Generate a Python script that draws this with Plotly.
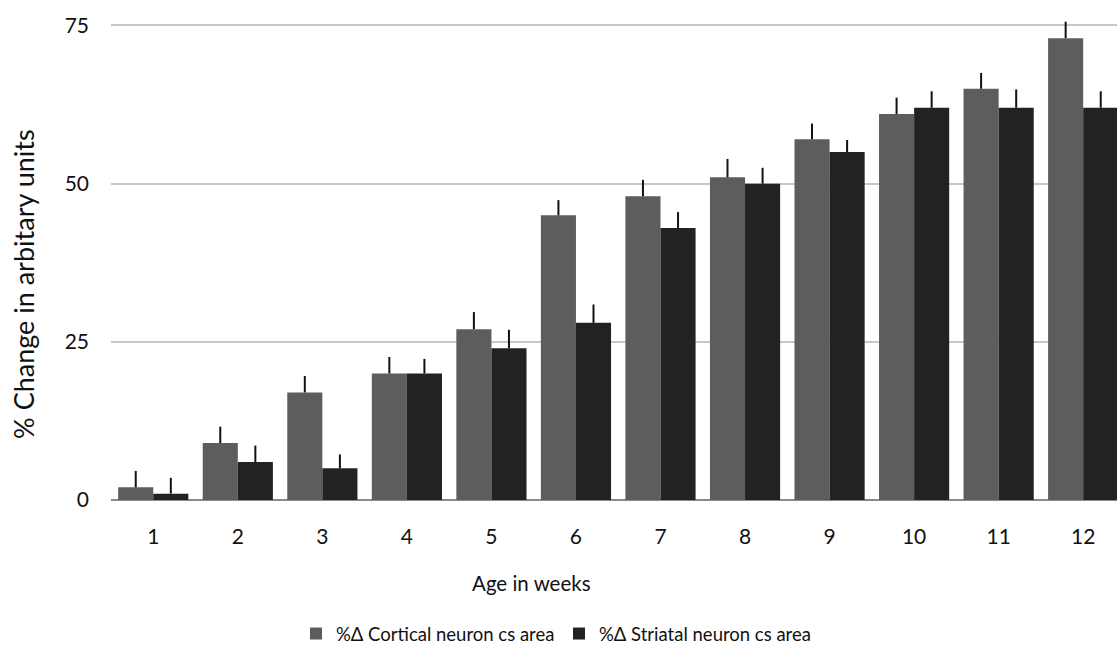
import plotly.graph_objects as go

weeks = [1, 2, 3, 4, 5, 6, 7, 8, 9, 10, 11, 12]
week_labels = ["1", "2", "3", "4", "5", "6", "7", "8", "9", "10", "11", "12"]
cortical = [2, 9, 17, 20, 27, 45, 48, 51, 57, 61, 65, 73]
cortical_err = [2.6, 2.6, 2.6, 2.6, 2.7, 2.4, 2.6, 2.9, 2.5, 2.6, 2.5, 2.6]
striatal = [1, 6, 5, 20, 24, 28, 43, 50, 55, 62, 62, 62]
striatal_err = [2.5, 2.6, 2.2, 2.3, 2.9, 2.9, 2.5, 2.5, 1.9, 2.6, 2.9, 2.6]
y_ticks = [0, 25, 50, 75]

FONT = "Lato"
W, H = 1117, 653
L, R, T, B = 111, 0, 16.4, 147.7

fig = go.Figure()
fig.add_trace(go.Bar(
    x=weeks, y=cortical, name="%Δ Cortical neuron cs area",
    marker=dict(color="#5d5d5d", line=dict(width=0)),
    error_y=dict(type="data", symmetric=False, array=cortical_err,
                 arrayminus=[0] * len(cortical), color="#111111",
                 thickness=2, width=0),
))
fig.add_trace(go.Bar(
    x=weeks, y=striatal, name="%Δ Striatal neuron cs area",
    marker=dict(color="#222222", line=dict(width=0)),
    error_y=dict(type="data", symmetric=False, array=striatal_err,
                 arrayminus=[0] * len(striatal), color="#111111",
                 thickness=2, width=0),
))

plot_h = H - T - B
plot_w = W - L - R


def px_x(p):
    return (p - L) / plot_w


def px_y(p):
    return (H - B - p) / plot_h


fig.update_layout(
    width=W, height=H,
    margin=dict(l=L, r=R, t=T, b=B, pad=0),
    paper_bgcolor="white", plot_bgcolor="white",
    barmode="group", bargap=0.17, bargroupgap=0,
    font=dict(family=FONT, color="#111111"),
    showlegend=True,
    legend=dict(orientation="h", x=px_x(296), xanchor="left",
                y=px_y(641), yanchor="middle",
                font=dict(family=FONT, size=18.5, color="#111111"),
                bgcolor="rgba(0,0,0,0)", itemwidth=30,
                entrywidthmode="pixels", entrywidth=218,
                traceorder="normal"),
    xaxis=dict(range=[0.5, 12.4], tickmode="array", tickvals=weeks,
               ticktext=week_labels, showgrid=False, zeroline=False,
               showline=False, ticks="", ticklabelstandoff=22,
               tickfont=dict(family=FONT, size=21, color="#111111"),
               fixedrange=True),
    yaxis=dict(range=[0, 76.5], tickmode="array", tickvals=y_ticks,
               showgrid=True, gridcolor="#c8c8c8", gridwidth=1.5,
               zeroline=True, zerolinecolor="#8a8a8a", zerolinewidth=2,
               showline=False, ticks="", ticklabelstandoff=21,
               tickfont=dict(family=FONT, size=21, color="#111111"),
               fixedrange=True),
    annotations=[
        dict(text="% Change in arbitary units", x=px_x(24), y=px_y(287),
             xref="paper", yref="paper", showarrow=False, textangle=-90,
             xanchor="center", yanchor="middle",
             font=dict(family=FONT, size=27, color="#111111")),
        dict(text="Age in weeks", x=px_x(531), y=px_y(589),
             xref="paper", yref="paper", showarrow=False,
             xanchor="center", yanchor="middle",
             font=dict(family=FONT, size=20.5, color="#111111")),
    ],
)

fig.write_html("out.html")
